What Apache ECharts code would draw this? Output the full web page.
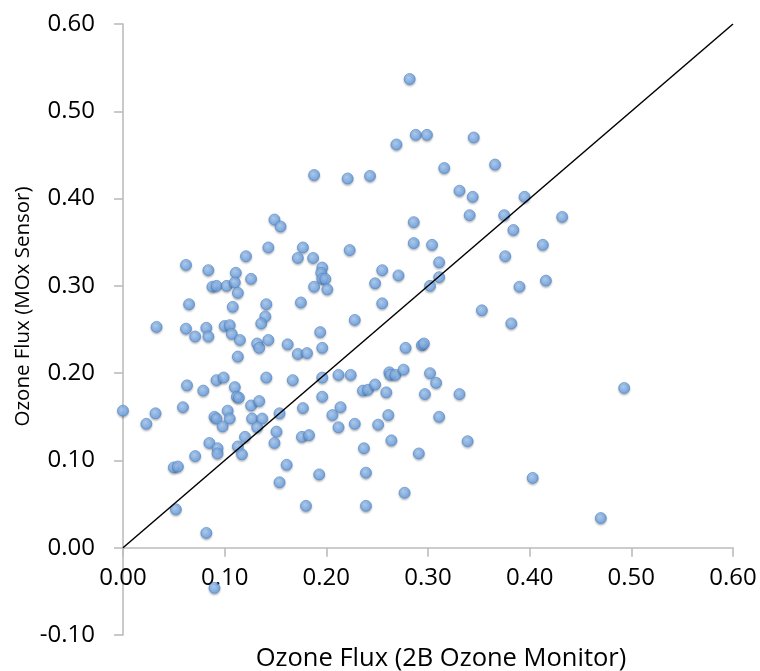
<!DOCTYPE html>
<html>
<head>
<meta charset="utf-8">
<script src="https://cdn.jsdelivr.net/npm/echarts@6/dist/echarts.min.js"></script>
<style>
html,body{margin:0;padding:0;background:#fff;}
#chart{width:760px;height:671px;}
</style>
</head>
<body>
<div id="chart"></div>
<script>
// Ozone flux: 2B Ozone Monitor (x) vs MOx Sensor (y)
const xValues = [
0.282,0.288,0.299,0.269,0.345,0.316,0.366,0.188,0.221,0.243,
0.331,0.344,0.395,0.341,0.375,0.432,0.286,0.384,0.286,0.304,
0.413,0.223,0.376,0.311,0.311,0.302,0.390,0.416,0.353,0.382,
0.294,0.296,0.149,0.155,0.143,0.177,0.121,0.172,0.187,0.062,
0.084,0.196,0.195,0.111,0.126,0.196,0.199,0.088,0.092,0.102,
0.110,0.113,0.188,0.201,0.255,0.271,0.248,0.255,0.228,0.065,
0.108,0.141,0.175,0.140,0.136,0.033,0.062,0.082,0.100,0.105,
0.194,0.071,0.084,0.107,0.115,0.132,0.134,0.143,0.162,0.172,
0.181,0.196,0.113,0.278,0.092,0.099,0.141,0.167,0.196,0.212,
0.224,0.262,0.263,0.268,0.276,0.302,0.308,0.236,0.241,0.248,
0.259,0.297,0.331,0.493,0.000,0.023,0.032,0.063,0.079,0.059,
0.110,0.112,0.114,0.126,0.134,0.103,0.090,0.092,0.105,0.098,
0.127,0.137,0.132,0.154,0.177,0.196,0.214,0.206,0.212,0.228,
0.251,0.261,0.311,0.151,0.120,0.085,0.093,0.093,0.113,0.117,
0.071,0.149,0.176,0.183,0.237,0.264,0.291,0.339,0.050,0.054,
0.161,0.154,0.193,0.239,0.403,0.277,0.239,0.052,0.180,0.082,
0.470,0.090
];
const yValues = [
0.537,0.473,0.473,0.462,0.470,0.435,0.439,0.427,0.423,0.426,
0.409,0.402,0.402,0.381,0.381,0.379,0.373,0.364,0.349,0.347,
0.347,0.341,0.334,0.327,0.310,0.300,0.299,0.306,0.272,0.257,
0.232,0.234,0.376,0.368,0.344,0.344,0.334,0.332,0.332,0.324,
0.318,0.321,0.315,0.315,0.308,0.308,0.308,0.299,0.300,0.300,
0.304,0.292,0.299,0.296,0.318,0.312,0.303,0.280,0.261,0.279,
0.276,0.279,0.281,0.265,0.257,0.253,0.251,0.252,0.254,0.255,
0.247,0.242,0.242,0.245,0.238,0.234,0.229,0.238,0.233,0.222,
0.223,0.229,0.219,0.229,0.192,0.195,0.195,0.192,0.195,0.198,
0.198,0.201,0.198,0.198,0.204,0.200,0.189,0.180,0.181,0.187,
0.178,0.176,0.176,0.183,0.157,0.142,0.154,0.186,0.180,0.161,
0.184,0.173,0.172,0.163,0.168,0.157,0.150,0.148,0.148,0.139,
0.148,0.148,0.138,0.154,0.160,0.173,0.161,0.152,0.138,0.142,
0.141,0.152,0.150,0.133,0.127,0.120,0.114,0.108,0.116,0.107,
0.105,0.120,0.127,0.129,0.114,0.123,0.108,0.122,0.092,0.093,
0.095,0.075,0.084,0.086,0.080,0.063,0.048,0.044,0.048,0.017,
0.034,-0.046
];
const refLine = [[0, 0], [0.6, 0.6]];
const axisTicks = { min: 0, max: 0.6, ymin: -0.1, ymax: 0.6, step: 0.1 };
const xTitle = 'Ozone Flux (2B Ozone Monitor)';
const yTitle = 'Ozone Flux (MOx Sensor)';

const points = xValues.map((x, i) => [x, yValues[i]]);
const FONT = 'Open Sans';
const axisGray = '#bcbcbc';

const GRID = { left: 123, right: 27, top: 24, bottom: 36 };
const plotH = 671 - GRID.top - GRID.bottom;
// shift the x axis up so it sits on y = 0 (crossing point)
const xAxisOffset = -plotH * (0 - axisTicks.ymin) / (axisTicks.ymax - axisTicks.ymin);

const chart = echarts.init(document.getElementById('chart'), null, { renderer: 'canvas' });
chart.setOption({
  animation: false,
  backgroundColor: '#ffffff',
  grid: Object.assign({ containLabel: false, outerBoundsMode: 'none' }, GRID),
  graphic: [
    {
      type: 'text', x: 441, y: 659,
      style: { text: xTitle, fontFamily: FONT, fontSize: 25.5, fill: '#000',
        align: 'center', verticalAlign: 'middle' }
    },
    {
      type: 'text', x: 23, y: 306.5, rotation: Math.PI / 2,
      style: { text: yTitle, fontFamily: FONT, fontSize: 20.5, fill: '#000',
        align: 'center', verticalAlign: 'middle' }
    }
  ],
  xAxis: {
    type: 'value',
    position: 'bottom',
    offset: xAxisOffset,
    min: axisTicks.min, max: axisTicks.max, interval: axisTicks.step,
    axisLine: { onZero: false, lineStyle: { color: axisGray, width: 1.6 } },
    axisTick: { show: true, length: 9, lineStyle: { color: axisGray, width: 1.6 } },
    axisLabel: { fontFamily: FONT, fontSize: 24, color: '#000', margin: 18,
      formatter: v => v.toFixed(2) },
    splitLine: { show: false }
  },
  yAxis: {
    type: 'value',
    min: axisTicks.ymin, max: axisTicks.ymax, interval: axisTicks.step,
    axisLine: { onZero: false, lineStyle: { color: axisGray, width: 1.6 } },
    axisTick: { show: true, length: 9, lineStyle: { color: axisGray, width: 1.6 } },
    axisLabel: { fontFamily: FONT, fontSize: 24, color: '#000', margin: 28,
      formatter: v => v.toFixed(2) },
    splitLine: { show: false }
  },
  series: [
    {
      type: 'scatter',
      data: points,
      symbol: 'circle',
      symbolSize: 11,
      z: 2,
      itemStyle: {
        color: new echarts.graphic.RadialGradient(0.4, 0.35, 0.7, [
          { offset: 0, color: '#a8ccf6' },
          { offset: 1, color: '#5a96de' }
        ]),
        borderColor: '#4f86cc',
        borderWidth: 0.8,
        shadowBlur: 2,
        shadowColor: 'rgba(0,0,0,0.3)',
        shadowOffsetY: 1.5
      }
    },
    {
      type: 'line',
      data: refLine,
      symbol: 'none',
      z: 3,
      lineStyle: { color: '#000', width: 1.5 }
    }
  ]
});
</script>
</body>
</html>
